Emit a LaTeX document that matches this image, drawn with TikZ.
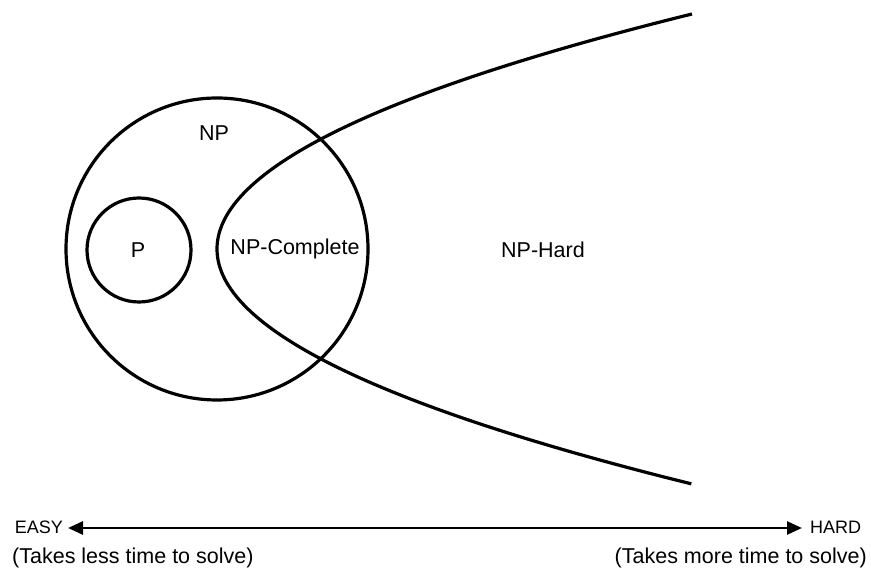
\documentclass[tikz,border=0pt]{standalone}
\usepackage{fontspec}
\setmainfont{Liberation Sans}
\usetikzlibrary{arrows.meta}
\begin{document}
\begin{tikzpicture}[x=1pt,y=-1pt,
  setline/.style={line width=3.2pt},
  lbl/.style={font=\fontsize{21.5}{24}\selectfont, inner sep=0pt},
  smalllbl/.style={font=\fontsize{18}{20}\selectfont, inner sep=0pt},
  tipstyle/.style={line width=2.7pt, {Triangle[length=15pt,width=13pt]}-{Triangle[length=15pt,width=13pt]}}]
\useasboundingbox (0,0) rectangle (871,569);
\node[setline, draw, circle, minimum size=302pt, inner sep=0pt] (np) at (217,249) {};
\node[setline, draw, circle, minimum size=104pt, inner sep=0pt] (p) at (139,250) {};
\draw[setline] plot[domain=-2.35:2.35, samples=121, smooth] ({217+86*\x*\x}, {249+100*\x});
\node[lbl] (nplbl) at (214,133) {NP};
\node[lbl] (plbl) at (138,250) {P};
\node[lbl] (npc) at (295,249) {NP-Complete};
\node[lbl] (nph) at (543,250) {NP-Hard};
\node[smalllbl, anchor=east] (easy) at (63,527.5) {EASY};
\node[smalllbl, anchor=west] (hard) at (810,527.5) {HARD};
\node[lbl, anchor=west] (less) at (12,558) {(Takes less time to solve)};
\node[lbl, anchor=east] (more) at (867,558) {(Takes more time to solve)};
\coordinate (aL) at (68,528);
\coordinate (aR) at (802,528);
\draw[tipstyle] (aL) -- (aR);
\end{tikzpicture}
\end{document}
